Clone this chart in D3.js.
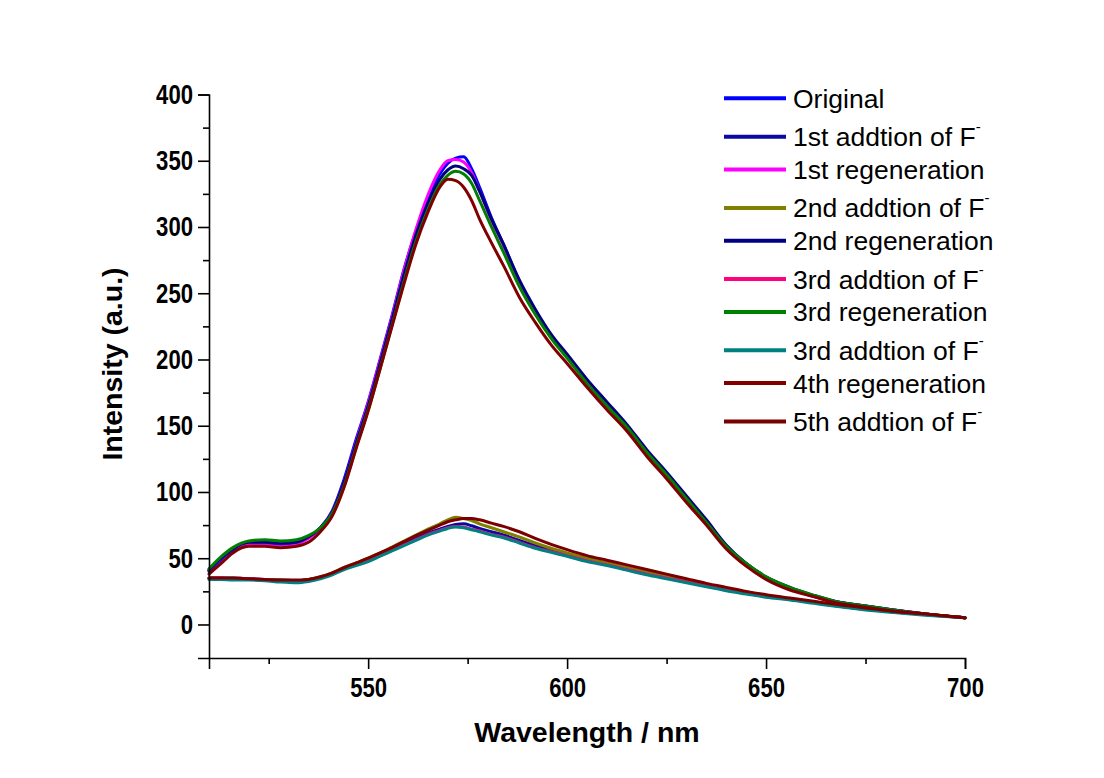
<!DOCTYPE html>
<html>
<head>
<meta charset="utf-8">
<script src="https://cdn.jsdelivr.net/npm/d3@7"></script>
<style>
  html, body { margin: 0; padding: 0; background: #ffffff; }
  svg { display: block; }
</style>
</head>
<body>
<svg id="chart" width="1104" height="778"></svg>
<script>
// ---- data ----
const wavelengths = [510,513,516,520,524,528,532,535,538,541,544,547,550,553,556,559,562,565,568,570,572,574,576,578,581,584,588,592,596,600,605,610,615,620,625,630,635,640,645,650,656,662,668,675,682,690,700];

const seriesNames = [
  "Original",
  "1st addtion of F",
  "1st regeneration",
  "2nd addtion of F",
  "2nd regeneration",
  "3rd addtion of F",
  "3rd regeneration",
  "3rd addtion of F",
  "4th regeneration",
  "5th addtion of F"
];
const seriesSuperscript = ["", "-", "", "-", "", "-", "", "-", "", "-"];
const seriesColors = ["#0000ff", "#0a0aa0", "#ff00ff", "#808000", "#000080", "#ff0080", "#008000", "#008080", "#800000", "#7a0000"];

const original      = [40,49,56,61,62,61,62,66,73,86,110,140,168,200,233,268,297,322,340,348,352,353,344,330,307,287,259,237,218,203,184,167,150,131,114,96,78,59,46,35,27,21,17,14,11,8,5];
const add1          = [35,35,35,34.5,34,33.5,33,34,35.5,38.5,42.5,45.5,49,53,57,61,65,69,72,74,75.5,76,74.5,72.5,70,67.5,63.5,59.5,56,53,49,46,42.5,39,36,32.5,29.5,26.5,24,21.5,19,16.5,14,11.5,9.5,7.5,5];
const regen1        = [41,50,57,61,61,60,61,65,72,85,108,138,167,199,232,267,298,324,343,350,351,349,341,327,305,286,258,236,217,202,183,166,149,130,113,95,77,59,45,35,27,21,17,13,11,8,5];
const add2          = [35,35,34.5,34,34,33.5,33,34,36,39,43,46.5,50,54,58.5,63,67.5,72,76,79,81,80,78.5,76,73,70,66,61.5,57.5,54,50,46.5,43,39.5,36.5,33,30,27,24.5,22,19.5,17,14.5,12,10,7.5,5];
const regen2        = [41,50,57,62,62,61,62,66,73,85,108,137,165,197,230,264,294,318,336,343,346,344,339,327,306,287,260,238,219,204,185,168,151,132,115,97,79,60,46,36,28,22,17,14,11,8,5];
const add3          = [35,35,34.5,34.5,34,33,33,33.5,35,38,42,45,48,52,56,60,64,68,71,73,74,73.5,72,70.5,68,66,62,58,55,52,48,45,41.5,38,35,32,29,26,23.5,21,19,16.5,14,11.5,9.5,7.5,5];
const regen3        = [42,51,58,63,64,63,64,67,73,84,105,134,162,193,226,259,289,313,332,339,342,340,333,320,300,281,255,234,216,201,182,165,149,130,113,95,77,59,46,36,28,22,17,14,11,8,5];
const add3b         = [34,34,33.5,33.5,33,32,31.5,32.5,34.5,37.5,41.5,44.5,47.5,51.5,55.5,59.5,63.5,67.5,70.5,72.5,73.5,73,71.5,70,67.5,65.5,61.5,57.5,54.5,51.5,47.5,44.5,41,37.5,34.5,31.5,28.5,25.5,23,20.5,18.5,16,13.5,11,9,7,5];
const regen4        = [38,46,54,59,59,58,59,62,70,82,104,133,161,193,225,257,287,311,330,336,335,330,320,306,288,271,247,228,211,197,179,162,146,127,110,92,75,57,44,34,26,21,16,13,10,8,5];
const add5          = [35,35,35,34.5,34,33.5,33.5,34,36,39,43,46.5,50,54,58,62.5,67,71,75,77.5,79,80,80,79,76.5,74,70,65,60.5,56.5,52,48.5,45,41.5,38,34.5,31,28,25,22.5,20,17.5,15,12.5,10,8,5];

const seriesValues = [original, add1, regen1, add2, regen2, add3, regen3, add3b, regen4, add5];

const xMajorTicks = [550, 600, 650, 700];
const xMinorTicks = [525, 575, 625, 675];
const yMajorTicks = [0, 50, 100, 150, 200, 250, 300, 350, 400];
const yMinorTicks = [25, 75, 125, 175, 225, 275, 325, 375];

// ---- layout ----
const svg = d3.select("#chart");
const x = d3.scaleLinear().domain([510, 700]).range([209, 965]);
const y = d3.scaleLinear().domain([-25.3, 400]).range([658, 94.5]);

const mainFont = "'Liberation Sans', Arial, sans-serif";
const tickScale = 0.79;

// lines
const line = d3.line()
  .x((d, i) => x(wavelengths[i]))
  .y(d => y(d))
  .curve(d3.curveMonotoneX);

const plot = svg.append("g");
seriesValues.forEach((vals, k) => {
  plot.append("path")
    .datum(vals)
    .attr("d", line)
    .attr("fill", "none")
    .attr("stroke", seriesColors[k])
    .attr("stroke-width", 3)
    .attr("stroke-linejoin", "round")
    .attr("stroke-linecap", "round");
});

// x axis
svg.append("g")
  .attr("class", "xaxis")
  .attr("transform", `translate(0,${y(-25.3)})`)
  .call(d3.axisBottom(x).tickValues(xMajorTicks).tickSize(11).tickPadding(8).tickFormat(d3.format("d")));
svg.append("g")
  .attr("transform", `translate(0,${y(-25.3)})`)
  .call(d3.axisBottom(x).tickValues(xMinorTicks).tickSize(6).tickFormat(""))
  .call(g => g.select(".domain").remove());

// y axis
svg.append("g")
  .attr("class", "yaxis")
  .attr("transform", `translate(${x(510)},0)`)
  .call(d3.axisLeft(y).tickValues(yMajorTicks).tickSize(11).tickPadding(5).tickFormat(d3.format("d")));
svg.append("g")
  .attr("transform", `translate(${x(510)},0)`)
  .call(d3.axisLeft(y).tickValues(yMinorTicks).tickSize(6).tickFormat(""))
  .call(g => g.select(".domain").remove());

svg.selectAll(".domain").attr("stroke", "#000").attr("stroke-width", 1.6);
svg.selectAll(".tick line").attr("stroke", "#000").attr("stroke-width", 1.6);
svg.selectAll(".tick text")
  .attr("font-family", mainFont)
  .attr("font-weight", "bold")
  .attr("font-size", 28)
  .attr("fill", "#000");
// narrow (condensed) look of the tick labels
svg.selectAll(".xaxis .tick text").attr("transform", `scale(${tickScale},1)`);
svg.selectAll(".yaxis .tick text")
  .attr("x", -16 / tickScale)
  .attr("transform", `scale(${tickScale},1)`);

// axis titles
svg.append("text")
  .attr("x", (x(510) + x(700)) / 2)
  .attr("y", 742)
  .attr("text-anchor", "middle")
  .attr("font-family", mainFont)
  .attr("font-weight", "bold")
  .attr("font-size", 28.5)
  .text("Wavelength / nm");

svg.append("text")
  .attr("transform", `translate(122,364) rotate(-90)`)
  .attr("text-anchor", "middle")
  .attr("font-family", mainFont)
  .attr("font-weight", "bold")
  .attr("font-size", 28.5)
  .text("Intensity (a.u.)");

// legend
const legend = svg.append("g");
let ly = 98.3;
seriesNames.forEach((name, k) => {
  if (k > 0) ly += seriesSuperscript[k] ? 38.4 : 32.8;
  legend.append("line")
    .attr("x1", 724).attr("x2", 786)
    .attr("y1", ly).attr("y2", ly)
    .attr("stroke", seriesColors[k])
    .attr("stroke-width", 4);
  const t = legend.append("text")
    .attr("x", 793)
    .attr("y", ly + 9.5)
    .attr("font-family", mainFont)
    .attr("font-size", 26.5)
    .attr("fill", "#000")
    .text(name);
  if (seriesSuperscript[k]) {
    t.append("tspan")
      .attr("dy", -14)
      .attr("font-size", 15)
      .text(seriesSuperscript[k]);
  }
});
</script>
</body>
</html>
